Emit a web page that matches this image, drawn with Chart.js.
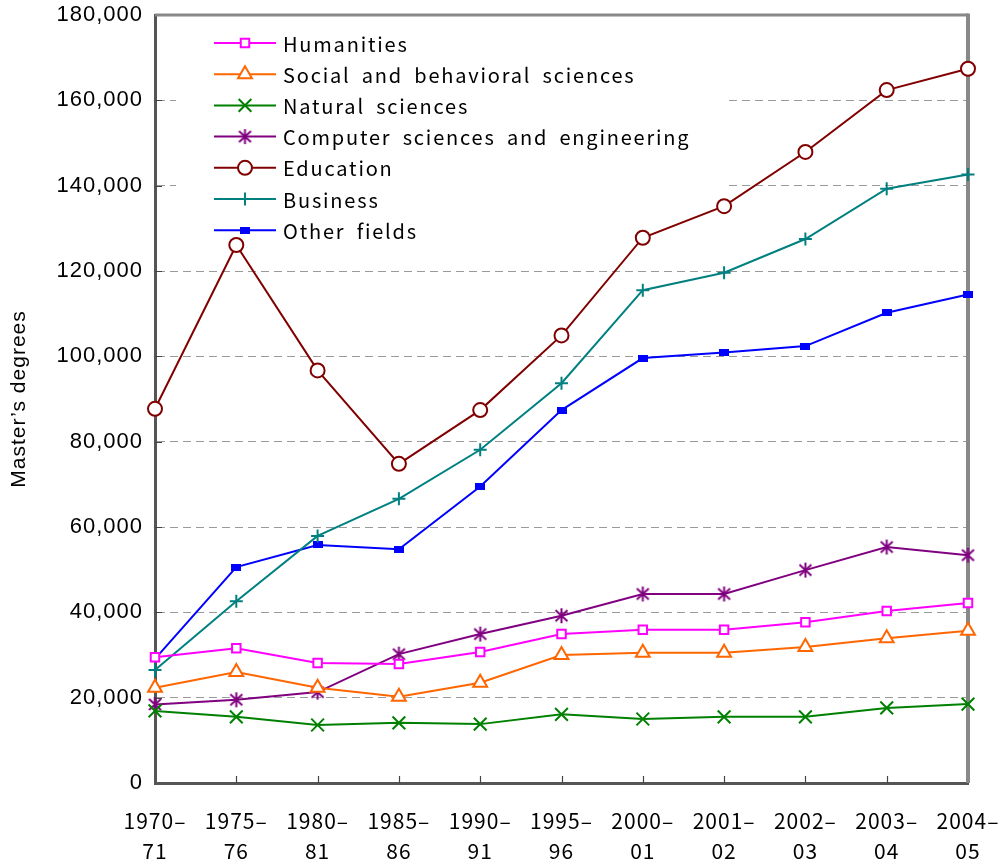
<!DOCTYPE html>
<html>
<head>
<meta charset="utf-8">
<script src="https://cdn.jsdelivr.net/npm/chart.js@4/dist/chart.umd.min.js"></script>
<style>
  html, body { margin: 0; padding: 0; background: #fff; }
  #wrap { width: 999px; height: 864px; }
</style>
</head>
<body>
<div id="wrap"><canvas id="c" width="999" height="864"></canvas></div>
<script>
// Academic years (two-line tick labels)
const years = [
  ['1970\u2013', '71'], ['1975\u2013', '76'], ['1980\u2013', '81'], ['1985\u2013', '86'],
  ['1990\u2013', '91'], ['1995\u2013', '96'], ['2000\u2013', '01'], ['2001\u2013', '02'],
  ['2002\u2013', '03'], ['2003\u2013', '04'], ['2004\u2013', '05']
];

// Master's degrees conferred, by field
const humanities   = [29500, 31600, 28100, 27900, 30700, 34900, 35900, 35900, 37700, 40300, 42200];
const socialBehav  = [22300, 26000, 22300, 20200, 23500, 30000, 30500, 30500, 31900, 33900, 35700];
const naturalSci   = [16900, 15500, 13600, 14100, 13800, 16100, 15000, 15500, 15500, 17600, 18500];
const compEng      = [18400, 19500, 21300, 30200, 34900, 39200, 44300, 44300, 49900, 55300, 53400];
const education    = [87700, 126100, 96700, 74800, 87400, 104900, 127800, 135200, 147900, 162400, 167400];
const business     = [26500, 42600, 57900, 66600, 78100, 93700, 115500, 119600, 127500, 139300, 142600];
const otherFields  = [29100, 50600, 55800, 54800, 69500, 87400, 99600, 100900, 102400, 110200, 114500];

const yTicks = { min: 0, max: 180000, step: 20000 };

// Marker images that the built-in point styles do not cover
function asteriskMarker(color) {
  const c = document.createElement('canvas');
  c.width = 17; c.height = 17;
  const g = c.getContext('2d');
  g.strokeStyle = color; g.lineWidth = 2;
  g.beginPath();
  g.moveTo(8.5, 1); g.lineTo(8.5, 16);
  g.moveTo(2.5, 3); g.lineTo(14.5, 14);
  g.moveTo(14.5, 3); g.lineTo(2.5, 14);
  g.stroke();
  return c;
}
function barMarker(color) {
  const c = document.createElement('canvas');
  c.width = 10; c.height = 7;
  const g = c.getContext('2d');
  g.fillStyle = color;
  g.fillRect(0, 0, 10, 7);
  return c;
}

const series = [
  { label: 'Humanities', data: humanities, color: '#ff00ff', style: 'rect', radius: 6 },
  { label: 'Social and behavioral sciences', data: socialBehav, color: '#ff6600', style: 'triangle', radius: 8 },
  { label: 'Natural sciences', data: naturalSci, color: '#008000', style: 'crossRot', radius: 9 },
  { label: 'Computer sciences and engineering', data: compEng, color: '#800080', style: asteriskMarker('#800080'), radius: 8 },
  { label: 'Education', data: education, color: '#800000', style: 'circle', radius: 7 },
  { label: 'Business', data: business, color: '#008080', style: 'cross', radius: 6.5 },
  { label: 'Other fields', data: otherFields, color: '#0000ff', style: barMarker('#0000ff'), radius: 5 }
];

function setSpacing(ctx, letter, word) {
  if ('letterSpacing' in ctx) ctx.letterSpacing = letter;
  if ('wordSpacing' in ctx) ctx.wordSpacing = word;
}

// Plot frame (top/right), inward tick marks, legend panel and text spacing
const framePlugin = {
  id: 'frame',
  beforeDraw(chart) {
    setSpacing(chart.ctx, '1px', '0px');
  },
  beforeDatasetsDraw(chart) {
    const { ctx, chartArea: a, scales } = chart;
    setSpacing(ctx, '0px', '0px');
    ctx.save();
    // legend panel background hides the grid behind it
    ctx.fillStyle = '#ffffff';
    ctx.fillRect(176, a.top + 3, 549, 235);
    // top and right frame
    ctx.strokeStyle = '#888888';
    ctx.lineWidth = 3;
    ctx.beginPath();
    ctx.moveTo(a.left, a.top);
    ctx.lineTo(a.right, a.top);
    ctx.stroke();
    ctx.lineWidth = 4;
    ctx.beginPath();
    ctx.moveTo(a.right, a.top - 1.5);
    ctx.lineTo(a.right, a.bottom);
    ctx.stroke();
    // inward ticks
    ctx.strokeStyle = '#444444';
    ctx.lineWidth = 1.2;
    ctx.beginPath();
    for (let v = yTicks.min + yTicks.step; v < yTicks.max; v += yTicks.step) {
      const y = Math.round(scales.y.getPixelForValue(v)) + 0.5;
      ctx.moveTo(a.left, y); ctx.lineTo(a.left + 7, y);
    }
    for (let i = 1; i < years.length - 1; i++) {
      const x = Math.round(scales.x.getPixelForValue(i)) + 0.5;
      ctx.moveTo(x, a.bottom); ctx.lineTo(x, a.bottom - 7);
    }
    ctx.stroke();
    ctx.restore();
  },
  afterDraw(chart) {
    const { ctx } = chart;
    ctx.save();
    chart.data.datasets.forEach((ds, i) => {
      const y = 43 + i * 31.2;
      ctx.strokeStyle = ds.borderColor;
      ctx.lineWidth = 2;
      ctx.beginPath();
      ctx.moveTo(214, y); ctx.lineTo(276, y);
      ctx.stroke();
      ctx.fillStyle = ds.pointBackgroundColor;
      ctx.strokeStyle = ds.pointBorderColor;
      ctx.lineWidth = ds.pointBorderWidth;
      Chart.helpers.drawPoint(ctx, {
        pointStyle: ds.pointStyle, radius: ds.pointRadius, rotation: 0, borderWidth: ds.pointBorderWidth
      }, 245, y);
      ctx.fillStyle = '#000000';
      ctx.font = '20px "Noto Sans CJK JP"';
      ctx.textBaseline = 'middle';
      ctx.textAlign = 'left';
      setSpacing(ctx, '1.8px', '5px');
      ctx.fillText(ds.label, 283, y + 1);
      setSpacing(ctx, '0px', '0px');
    });
    ctx.restore();
  }
};

new Chart(document.getElementById('c'), {
  type: 'line',
  data: {
    labels: years,
    datasets: series.map(s => ({
      label: s.label,
      data: s.data,
      borderColor: s.color,
      backgroundColor: s.color,
      borderWidth: 2,
      pointStyle: s.style,
      pointRadius: s.radius,
      pointHoverRadius: s.radius,
      pointBorderWidth: 2,
      pointBorderColor: s.color,
      pointBackgroundColor: (s.style === 'rect' || s.style === 'triangle' || s.style === 'circle') ? '#ffffff' : s.color,
      tension: 0,
      clip: false
    }))
  },
  options: {
    responsive: false,
    animation: false,
    events: [],
    layout: { padding: { top: 15, right: 31, left: 0, bottom: 0 } },
    plugins: { legend: { display: false }, tooltip: { enabled: false } },
    scales: {
      x: {
        offset: false,
        grid: { display: false, drawTicks: false },
        border: { display: true, color: '#555555', width: 3 },
        ticks: {
          autoSkip: false,
          maxRotation: 0,
          padding: 23,
          color: '#000000',
          font: { family: '"Noto Sans CJK JP"', size: 21, lineHeight: 1.43 }
        },
        afterFit(scale) {
          scale.height = 81;
          scale.paddingLeft = 0; scale.paddingRight = 0;
        }
      },
      y: {
        min: yTicks.min,
        max: yTicks.max,
        grid: { color: '#9a9a9a', lineWidth: 1, drawTicks: false },
        border: { display: true, color: '#555555', width: 3, dash: [8, 5] },
        ticks: {
          stepSize: yTicks.step,
          padding: 12,
          color: '#000000',
          font: { family: '"Liberation Sans", Arial, sans-serif', size: 22 },
          callback: v => v.toLocaleString('en-US')
        },
        title: {
          display: true,
          text: 'Master\u2019s degrees',
          color: '#000000',
          font: { family: '"Liberation Sans", Arial, sans-serif', size: 21 },
          padding: { top: 7, bottom: 0 }
        },
        afterFit(scale) {
          scale.width = 155;
          scale.paddingTop = 0; scale.paddingBottom = 0;
        }
      }
    }
  },
  plugins: [framePlugin]
});
</script>
</body>
</html>
